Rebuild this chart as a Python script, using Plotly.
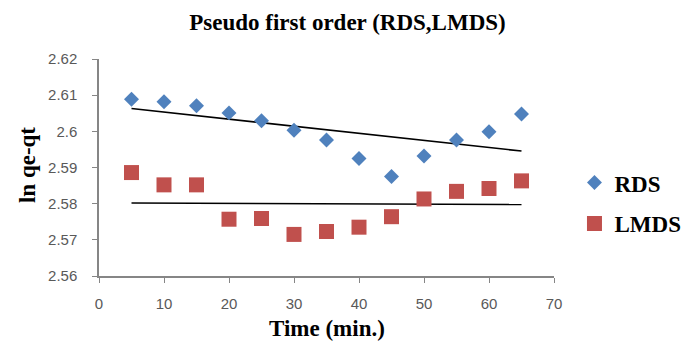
import numpy as np
import plotly.graph_objects as go

time_min = [5, 10, 15, 20, 25, 30, 35, 40, 45, 50, 55, 60, 65]
rds = [2.6089, 2.6082, 2.6071, 2.6051, 2.6029, 2.6003, 2.5976, 2.5925, 2.5875, 2.5932, 2.5976, 2.5999, 2.6048]
lmds = [2.5886, 2.5852, 2.5852, 2.5757, 2.5759, 2.5715, 2.5723, 2.5735, 2.5764, 2.5813, 2.5834, 2.5842, 2.5863]

x_ticks = [0, 10, 20, 30, 40, 50, 60, 70]
y_ticks = [2.56, 2.57, 2.58, 2.59, 2.60, 2.61, 2.62]
y_tick_labels = ["2.56", "2.57", "2.58", "2.59", "2.6", "2.61", "2.62"]

serif = "Liberation Serif"
bold_font = dict(family=serif, size=23, color="black", weight="bold")
tickfont = dict(family="Liberation Sans", size=15, color="#595959")

fig = go.Figure()

x_arr = np.array(time_min, dtype=float)
for vals in (rds, lmds):
    k, b = np.polyfit(x_arr, np.array(vals), 1)
    xs = [x_arr.min(), x_arr.max()]
    fig.add_trace(go.Scatter(x=xs, y=[k * v + b for v in xs], mode="lines",
                             line=dict(color="black", width=1.6), showlegend=False,
                             hoverinfo="skip"))

fig.add_trace(go.Scatter(x=time_min, y=rds, mode="markers", name="RDS", legendgroup="a",
                         marker=dict(symbol="diamond", size=11.5, color="#4F81BD")))
fig.add_trace(go.Scatter(x=time_min, y=lmds, mode="markers", name="LMDS", legendgroup="b",
                         marker=dict(symbol="square", size=15, color="#C0504D")))

fig.update_layout(
    width=690, height=339,
    paper_bgcolor="white", plot_bgcolor="white",
    margin=dict(l=91, r=138, t=51, b=71),
    title=dict(text="Pseudo first order (RDS,LMDS)", x=0.492, xanchor="center",
               y=0.9587, yanchor="middle", font=bold_font),
    xaxis=dict(range=[0, 70], tickvals=x_ticks, showgrid=False, zeroline=False,
               showline=True, linecolor="#868686", linewidth=1.5,
               ticks="outside", ticklen=5, tickcolor="#868686",
               tickfont=tickfont, ticklabelstandoff=8),
    yaxis=dict(range=[2.56, 2.62], tickvals=y_ticks, ticktext=y_tick_labels,
               showgrid=False, zeroline=False,
               showline=True, linecolor="#868686", linewidth=1.5,
               ticks="outside", ticklen=5, tickcolor="#868686",
               tickfont=tickfont, ticklabelstandoff=12),
    annotations=[
        dict(text="Time (min.)", xref="paper", yref="paper", x=0.5, y=0,
             xanchor="center", yanchor="middle", yshift=-52, showarrow=False,
             font=bold_font),
        dict(text="ln qe-qt", xref="paper", yref="paper", x=0, y=0.509,
             xanchor="center", yanchor="middle", xshift=-71.5, textangle=-90,
             showarrow=False, font=bold_font),
    ],
    legend=dict(x=1.045, y=0.336, xanchor="left", yanchor="middle",
                font=bold_font, itemsizing="trace", tracegroupgap=8,
                bgcolor="rgba(0,0,0,0)"),
    showlegend=True,
)

fig.write_html("out.html")
